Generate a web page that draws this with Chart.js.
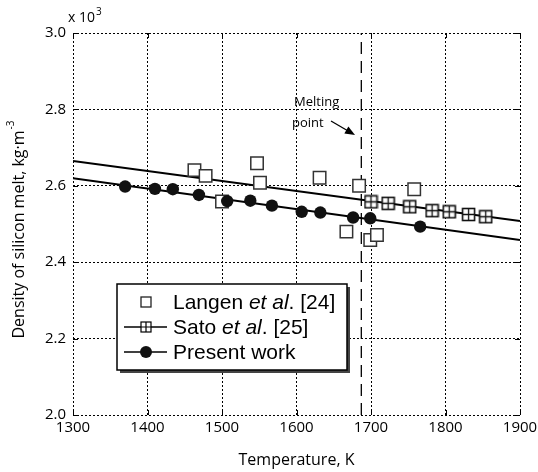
<!DOCTYPE html>
<html><head><meta charset="utf-8">
<script src="https://cdn.jsdelivr.net/npm/chart.js@4"></script>
<style>html,body{margin:0;padding:0;background:#fff;}#wrap{width:538px;height:472px;position:relative;}</style>
</head><body><div id="wrap"><canvas id="c" width="538" height="472"></canvas></div>
<script>
// ---- data (density in units of 10^3 kg/m^3, temperature in K) ----
const langenT = [1463, 1478, 1500, 1547, 1551, 1631, 1667, 1684, 1699, 1708, 1758];
const langenD = [2.641, 2.626, 2.559, 2.659, 2.608, 2.621, 2.480, 2.600, 2.458, 2.471, 2.591];
const satoT = [1700, 1723, 1752, 1782, 1805, 1831, 1854];
const satoD = [2.558, 2.554, 2.545, 2.535, 2.532, 2.525, 2.519];
const satoFitT = [1300, 1900];
const satoFitD = [2.665, 2.508];
const presentT = [1370, 1410, 1434, 1469, 1507, 1538, 1567, 1607, 1632, 1676, 1699, 1766];
const presentD = [2.598, 2.592, 2.591, 2.576, 2.560, 2.561, 2.548, 2.532, 2.530, 2.517, 2.515, 2.493];
const presentFitT = [1300, 1900];
const presentFitD = [2.620, 2.458];
const meltingT = [1687, 1687];
const meltingD = [2.0, 3.0];
const xTicks = [1300, 1400, 1500, 1600, 1700, 1800, 1900];
const yTicks = [2.0, 2.2, 2.4, 2.6, 2.8, 3.0];
const legendLabels = [["Langen ", "et al", ". [24]"], ["Sato ", "et al", ". [25]"], ["Present work", "", ""]];

const pts = (xs, ys) => xs.map((x, i) => ({x: x, y: ys[i]}));

function crossSquare(side) {
  const s = Math.ceil(side + 3);
  const c = document.createElement('canvas');
  c.width = s; c.height = s;
  const g = c.getContext('2d');
  const o = (s - side) / 2;
  g.fillStyle = '#fff';
  g.fillRect(o, o, side, side);
  g.strokeStyle = '#111';
  g.lineWidth = 1.6;
  g.strokeRect(o, o, side, side);
  g.lineWidth = 1.3;
  g.beginPath();
  g.moveTo(s / 2, o); g.lineTo(s / 2, o + side);
  g.moveTo(o, s / 2); g.lineTo(o + side, s / 2);
  g.stroke();
  return c;
}
const satoImg = crossSquare(12);

const FONT = "'Open Sans', 'DejaVu Sans', sans-serif";
const LFONT = "'Liberation Sans', Arial, sans-serif";

const decor = {
  id: 'decor',
  afterDraw(chart) {
    const ctx = chart.ctx;
    const xs = chart.scales.x, ys = chart.scales.y;
    const a = chart.chartArea;
    ctx.save();
    // inward tick marks
    ctx.strokeStyle = '#000'; ctx.lineWidth = 1; ctx.setLineDash([]);
    ctx.beginPath();
    xTicks.forEach(t => {
      const px = Math.round(xs.getPixelForValue(t)) + 0.5;
      ctx.moveTo(px, a.bottom); ctx.lineTo(px, a.bottom - 5);
      ctx.moveTo(px, a.top); ctx.lineTo(px, a.top + 5);
    });
    yTicks.forEach(t => {
      const py = Math.round(ys.getPixelForValue(t)) + 0.5;
      ctx.moveTo(a.left, py); ctx.lineTo(a.left + 5, py);
      ctx.moveTo(a.right, py); ctx.lineTo(a.right - 5, py);
    });
    ctx.stroke();

    // x 10^3
    ctx.fillStyle = '#000';
    ctx.textBaseline = 'middle';
    ctx.textAlign = 'left';
    ctx.font = "14px " + FONT;
    ctx.fillText('x 10', 68, 18);
    const wx = ctx.measureText('x 10').width;
    ctx.font = "10px " + FONT;
    ctx.fillText('3', 68 + wx + 1, 12);

    // axis titles
    ctx.font = "16px " + FONT;
    ctx.textAlign = 'center';
    ctx.fillText('Temperature, K', (a.left + a.right) / 2, 460);
    ctx.save();
    ctx.translate(19, (a.top + a.bottom) / 2 + 6);
    ctx.rotate(-Math.PI / 2);
    ctx.font = "16px " + FONT;
    const main = 'Density of silicon melt, kg\u00b7m';
    const w1 = ctx.measureText(main).width;
    ctx.font = "10px " + FONT;
    const w2 = ctx.measureText('-3').width;
    const start = -(w1 + w2) / 2;
    ctx.textAlign = 'left';
    ctx.font = "16px " + FONT;
    ctx.fillText(main, start, 0);
    ctx.font = "10px " + FONT;
    ctx.fillText('-3', start + w1 + 1, -8);
    ctx.restore();

    // melting point annotation
    ctx.font = "13px " + FONT;
    ctx.textAlign = 'left';
    ctx.fillText('Melting', 294, 102);
    ctx.fillText('point', 292, 123);
    const x1 = 331, y1 = 121, x2 = 355, y2 = 135;
    ctx.lineWidth = 1.3;
    ctx.beginPath(); ctx.moveTo(x1, y1); ctx.lineTo(x2 - 6, y2 - 3.5); ctx.stroke();
    const ang = Math.atan2(y2 - y1, x2 - x1);
    ctx.beginPath();
    ctx.moveTo(x2, y2);
    ctx.lineTo(x2 - 10 * Math.cos(ang) + 4 * Math.sin(ang), y2 - 10 * Math.sin(ang) - 4 * Math.cos(ang));
    ctx.lineTo(x2 - 10 * Math.cos(ang) - 4 * Math.sin(ang), y2 - 10 * Math.sin(ang) + 4 * Math.cos(ang));
    ctx.closePath(); ctx.fill();

    // legend
    const bx = 117, by = 284, bw = 230, bh = 86;
    ctx.fillStyle = '#444';
    ctx.fillRect(bx + 3, by + 3, bw, bh);
    ctx.fillStyle = '#fff';
    ctx.fillRect(bx, by, bw, bh);
    ctx.strokeStyle = '#000'; ctx.lineWidth = 1.5;
    ctx.strokeRect(bx, by, bw, bh);
    const rows = [302, 327, 352];
    const sx = 146;
    ctx.lineWidth = 1.3;
    ctx.strokeStyle = '#222';
    ctx.strokeRect(sx - 5, rows[0] - 5, 10, 10);
    ctx.strokeStyle = '#000'; ctx.lineWidth = 1.5;
    ctx.beginPath(); ctx.moveTo(124, rows[1]); ctx.lineTo(167, rows[1]); ctx.stroke();
    ctx.fillStyle = '#fff'; ctx.fillRect(sx - 5, rows[1] - 5, 10, 10);
    ctx.lineWidth = 1.2;
    ctx.strokeRect(sx - 5, rows[1] - 5, 10, 10);
    ctx.beginPath();
    ctx.moveTo(sx, rows[1] - 5); ctx.lineTo(sx, rows[1] + 5);
    ctx.moveTo(sx - 5, rows[1]); ctx.lineTo(sx + 5, rows[1]);
    ctx.stroke();
    ctx.lineWidth = 1.5;
    ctx.beginPath(); ctx.moveTo(124, rows[2]); ctx.lineTo(167, rows[2]); ctx.stroke();
    ctx.fillStyle = '#111';
    ctx.beginPath(); ctx.arc(sx, rows[2], 6, 0, Math.PI * 2); ctx.fill();
    ctx.fillStyle = '#000';
    ctx.textAlign = 'left';
    legendLabels.forEach((parts, i) => {
      let x = 173;
      const y = rows[i] + 1;
      ctx.font = "21px " + LFONT;
      ctx.fillText(parts[0], x, y); x += ctx.measureText(parts[0]).width;
      if (parts[1]) {
        ctx.font = "italic 21px " + LFONT;
        ctx.fillText(parts[1], x, y); x += ctx.measureText(parts[1]).width;
        ctx.font = "21px " + LFONT;
        ctx.fillText(parts[2], x, y);
      }
    });
    ctx.restore();
  }
};

new Chart(document.getElementById('c'), {
  type: 'scatter',
  data: {
    datasets: [
      { label: 'Present work', data: pts(presentT, presentD), pointStyle: 'circle', pointRadius: 6.2, pointHoverRadius: 6.2,
        backgroundColor: '#111', borderColor: '#111', borderWidth: 0 },
      { label: 'Sato et al. [25]', data: pts(satoT, satoD), pointStyle: satoImg, pointRadius: 7 },
      { label: 'Langen et al. [24]', data: pts(langenT, langenD), pointStyle: 'rect', pointRadius: 8.8, pointHoverRadius: 8.8,
        backgroundColor: '#fff', borderColor: '#333', borderWidth: 1.5 },
      { label: 'present fit', data: pts(presentFitT, presentFitD), showLine: true, pointRadius: 0, borderColor: '#000', borderWidth: 2 },
      { label: 'sato fit', data: pts(satoFitT, satoFitD), showLine: true, pointRadius: 0, borderColor: '#000', borderWidth: 2 },
      { label: 'melting', data: pts(meltingT, meltingD), showLine: true, pointRadius: 0, borderColor: '#000', borderWidth: 1.3, borderDash: [12, 7] }
    ]
  },
  options: {
    responsive: false,
    animation: false,
    events: [],
    layout: { padding: { top: 33, right: 18, left: 0, bottom: 0 } },
    plugins: { legend: { display: false }, tooltip: { enabled: false } },
    scales: {
      x: {
        type: 'linear', min: 1300, max: 1900,
        afterBuildTicks: s => { s.ticks = xTicks.map(v => ({value: v})); },
        afterFit: s => { s.height = 57; s.paddingRight = 0; s.paddingLeft = 0; },
        ticks: { color: '#000', font: { family: FONT, size: 15 }, padding: 4, maxRotation: 0, callback: v => String(v) },
        grid: { color: '#000', lineWidth: 1, drawTicks: false },
        border: { display: false, dash: [2, 2] }
      },
      y: {
        type: 'linear', min: 2.0, max: 3.0,
        afterBuildTicks: s => { s.ticks = yTicks.map(v => ({value: v})); },
        afterFit: s => { s.width = 73; s.paddingTop = 0; s.paddingBottom = 0; },
        ticks: { color: '#000', font: { family: FONT, size: 15 }, padding: 7, callback: v => v.toFixed(1) },
        grid: { color: '#000', lineWidth: 1, drawTicks: false },
        border: { display: false, dash: [2, 2] }
      }
    }
  },
  plugins: [decor]
});
</script>
</body></html>
